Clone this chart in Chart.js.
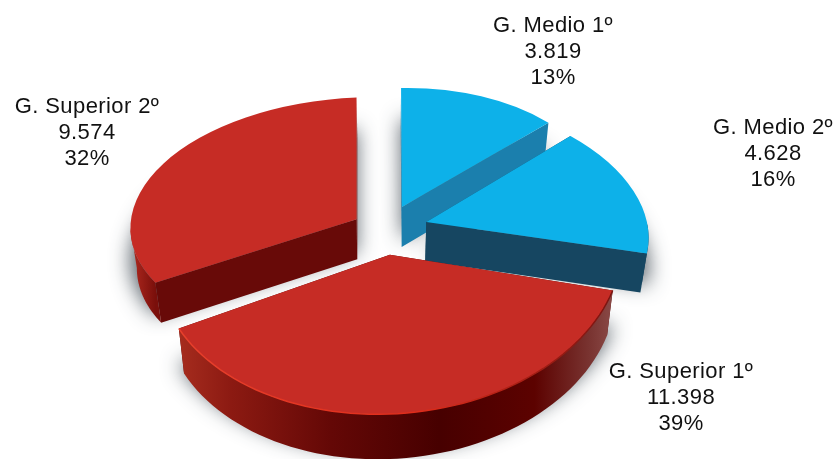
<!DOCTYPE html>
<html>
<head>
<meta charset="utf-8">
<title>Alumnos por grado</title>
<script src="https://cdn.jsdelivr.net/npm/chart.js@4/dist/chart.umd.min.js"></script>
<style>
  html, body { margin: 0; padding: 0; background: #fff; }
  canvas { display: block; }
</style>
</head>
<body>
<canvas id="pie" width="834" height="459"></canvas>
<script>
const categories = ['G. Medio 1º', 'G. Medio 2º', 'G. Superior 1º', 'G. Superior 2º'];
const values = [3819, 4628, 11398, 9574];
const shares = [13, 16, 39, 32];

// look of each slice, same order as categories
const topColors = ['#0db1e9', '#0db1e9', '#c62c25', '#c62c25'];
const sideColors = ['#1b7fad', '#164661', '#5a0402', '#680a08'];
const explode = [36, 36, 32, 30];
// per slice affine squash, fakes the perspective of the original 3D pie
const scaleX = [1.063, 1.163, 1.219, 1.19];
const skewX = [0.005, 0.128, -0.057, 0];
const skewY = [-0.02, 0.01, -0.006, -0.047];
const scaleY = [0.626, 0.672, 0.84, 0.64];
const depth = [40, 39, 45, 40];
const taper = 0.975;
const labelPos = [[553, 26], [773, 128], [681, 372], [87, 107]];

const thousands = v => String(v).replace(/\B(?=(\d{3})+$)/g, '.');

// screen position of a point on slice i, angle a, radius r
function point(arc, i, a, r) {
  const mid = (arc.startAngle + arc.endAngle) / 2;
  const lx = Math.cos(mid) * explode[i] + Math.cos(a) * r;
  const ly = Math.sin(mid) * explode[i] + Math.sin(a) * r;
  return {
    x: arc.x + scaleX[i] * lx + skewX[i] * ly,
    y: arc.y + skewY[i] * lx + scaleY[i] * ly
  };
}

// same point on the underside, a bit narrower like in the perspective view
function under(arc, i, p) {
  return { x: arc.x + (p.x - arc.x) * taper, y: p.y + depth[i] };
}

function withSliceTransform(ctx, arc, i, dx, dy, fn) {
  const mid = (arc.startAngle + arc.endAngle) / 2;
  ctx.save();
  ctx.translate(arc.x + dx, arc.y + dy);
  ctx.transform(scaleX[i], skewY[i], skewX[i], scaleY[i], 0, 0);
  ctx.translate(Math.cos(mid) * explode[i], Math.sin(mid) * explode[i]);
  ctx.translate(-arc.x, -arc.y);
  fn();
  ctx.restore();
}

function rimPoints(arc, i) {
  const from = Math.max(arc.startAngle, 0);
  const to = Math.min(arc.endAngle, Math.PI);
  const pts = [];
  for (let k = 0; k <= 60; k++) {
    pts.push(point(arc, i, from + (to - from) * k / 60, arc.outerRadius));
  }
  return pts;
}

function drawCutFace(ctx, arc, i, angle) {
  const apex = point(arc, i, angle, 0);
  const edge = point(arc, i, angle, arc.outerRadius);
  const edgeLow = under(arc, i, edge);
  const apexLow = under(arc, i, apex);
  ctx.fillStyle = sideColors[i];
  ctx.beginPath();
  ctx.moveTo(apex.x, apex.y);
  ctx.lineTo(edge.x, edge.y);
  ctx.lineTo(edgeLow.x, edgeLow.y);
  ctx.lineTo(apexLow.x, apexLow.y);
  ctx.closePath();
  ctx.fill();
}

function rimFill(ctx, i, pts) {
  if (i < 2) return sideColors[i];
  const g = ctx.createLinearGradient(pts[pts.length - 1].x, 0, pts[0].x, 0);
  if (i === 2) {
    g.addColorStop(0, '#a62c1e');
    g.addColorStop(0.12, '#8c1a12');
    g.addColorStop(0.35, '#640806');
    g.addColorStop(0.6, '#470000');
    g.addColorStop(0.82, '#5c0200');
    g.addColorStop(0.95, '#7a3532');
    g.addColorStop(1, '#8a4a47');
  } else {
    g.addColorStop(0, '#b22a20');
    g.addColorStop(1, '#7a0f0b');
  }
  return g;
}

function drawRim(ctx, arc, i) {
  if (Math.min(arc.endAngle, Math.PI) <= Math.max(arc.startAngle, 0)) return;
  const pts = rimPoints(arc, i);
  ctx.fillStyle = rimFill(ctx, i, pts);
  ctx.beginPath();
  pts.forEach((p, k) => k ? ctx.lineTo(p.x, p.y) : ctx.moveTo(p.x, p.y));
  for (let k = pts.length - 1; k >= 0; k--) {
    const low = under(arc, i, pts[k]);
    ctx.lineTo(low.x, low.y);
  }
  ctx.closePath();
  ctx.fill();
}

function drawRimLight(ctx, arc, i) {
  if (i !== 2) return;
  const pts = rimPoints(arc, i);
  const g = ctx.createLinearGradient(pts[pts.length - 1].x, 0, pts[0].x, 0);
  g.addColorStop(0, '#e8402c');
  g.addColorStop(0.55, '#e02c1a');
  g.addColorStop(1, '#7a1410');
  ctx.strokeStyle = g;
  ctx.lineWidth = 1.5;
  ctx.beginPath();
  pts.forEach((p, k) => k ? ctx.lineTo(p.x, p.y) : ctx.moveTo(p.x, p.y));
  ctx.stroke();
}

const pie3d = {
  id: 'pie3d',
  beforeDatasetDraw(chart, args) {
    const ctx = chart.ctx;
    const arcs = chart.getDatasetMeta(args.index).data;
    const offCanvas = 2000;

    // soft shadow under the slices, the shape itself is drawn off canvas
    arcs.forEach((arc, i) => {
      withSliceTransform(ctx, arc, i, -offCanvas, depth[i] * 0.8, () => {
        ctx.shadowColor = 'rgba(60, 70, 80, 0.85)';
        ctx.shadowBlur = 20;
        ctx.shadowOffsetX = offCanvas;
        arc.draw(ctx);
      });
    });

    arcs.forEach((arc, i) => {
      drawCutFace(ctx, arc, i, arc.startAngle);
      drawCutFace(ctx, arc, i, arc.endAngle);
      drawRim(ctx, arc, i);
    });

    arcs.forEach((arc, i) => {
      withSliceTransform(ctx, arc, i, 0, 0, () => arc.draw(ctx));
      drawRimLight(ctx, arc, i);
    });
    return false;
  },
  afterDraw(chart) {
    const ctx = chart.ctx;
    ctx.save();
    ctx.font = '22px "Liberation Sans", Arial, sans-serif';
    ctx.letterSpacing = '0.4px';
    ctx.fillStyle = '#111';
    ctx.textAlign = 'center';
    ctx.textBaseline = 'middle';
    categories.forEach((name, i) => {
      const [x, y] = labelPos[i];
      ctx.fillText(name, x, y);
      ctx.fillText(thousands(values[i]), x, y + 26);
      ctx.fillText(shares[i] + '%', x, y + 52);
    });
    ctx.restore();
  }
};

new Chart(document.getElementById('pie'), {
  type: 'pie',
  data: {
    labels: categories,
    datasets: [{
      data: values,
      backgroundColor: topColors,
      borderWidth: 0,
      radius: 190
    }]
  },
  options: {
    responsive: false,
    animation: false,
    events: [],
    layout: { padding: { right: 60, bottom: 3 } },
    plugins: {
      legend: { display: false },
      tooltip: { enabled: false }
    }
  },
  plugins: [pie3d]
});
</script>
</body>
</html>
